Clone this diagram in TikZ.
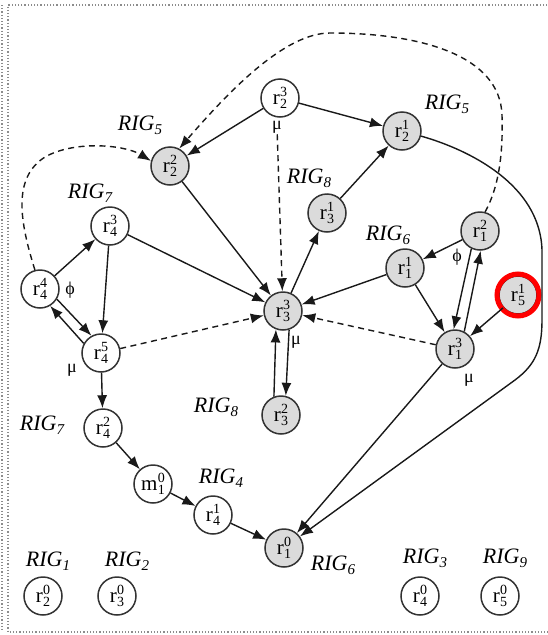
\documentclass[tikz,border=0pt]{standalone}
\usepackage{fontspec}
\setmainfont{Liberation Serif}
\usetikzlibrary{arrows.meta}

% state label: base letter with stacked superscript (#2) and subscript (#3)
\newcommand{\stlab}[3]{#1\kern0.2pt\rlap{\raisebox{8.5pt}{\fontsize{14}{14}\selectfont #2}}\raisebox{-4pt}{\fontsize{14}{14}\selectfont #3}}
% group label RIG with italic subscript
\newcommand{\riglab}[1]{RIG\raisebox{-4pt}{\fontsize{15}{15}\selectfont #1}}

\begin{document}
\begin{tikzpicture}[x=1pt,y=-1pt,
  st/.style={circle,draw=black!80,line width=1.5pt,minimum size=38pt,inner sep=0pt,
             fill=white,font=\fontsize{21}{21}\selectfont},
  sg/.style={st,fill=black!14},
  ar/.style={-{Latex[length=13pt,width=10pt]},line width=1.4pt,black!90},
  da/.style={ar,dash pattern=on 6pt off 4.5pt},
  lab/.style={font=\fontsize{22}{22}\selectfont\itshape,inner sep=0pt},
  gr/.style={font=\fontsize{18}{18}\selectfont,inner sep=1pt},
  frame/.style={draw=black!45,dotted,line width=1.2pt}]
\useasboundingbox (0,0) rectangle (548,635);

% frame
\draw[frame] (560,5) -- (8,5) -- (8,632) -- (560,632);
\draw[frame] (2,5) -- (2,632);

% states
\node[st] (r23) at (280,98)  {\stlab{r}{3}{2}};
\node[sg] (r22) at (170,166) {\stlab{r}{2}{2}};
\node[sg] (r21) at (402,131) {\stlab{r}{1}{2}};
\node[sg] (r31) at (327,213) {\stlab{r}{1}{3}};
\node[st] (r43) at (110,226) {\stlab{r}{3}{4}};
\node[st] (r44) at (40,289)  {\stlab{r}{4}{4}};
\node[st] (r45) at (101,353) {\stlab{r}{5}{4}};
\node[sg] (r33) at (283,311) {\stlab{r}{3}{3}};
\node[sg] (r32) at (281,415) {\stlab{r}{2}{3}};
\node[sg] (r11) at (405,268) {\stlab{r}{1}{1}};
\node[sg] (r12) at (480,231) {\stlab{r}{2}{1}};
\node[sg] (r51) at (518,295) {\stlab{r}{1}{5}};
\node[sg] (r13) at (455,349) {\stlab{r}{3}{1}};
\node[st] (r42) at (103,428) {\stlab{r}{2}{4}};
\node[st] (m10) at (153,484) {\stlab{m}{0}{1}};
\node[st] (r41) at (213,515) {\stlab{r}{1}{4}};
\node[sg] (r10) at (284,548) {\stlab{r}{0}{1}};
\node[st] (r20) at (43,596)  {\stlab{r}{0}{2}};
\node[st] (r30) at (117,596) {\stlab{r}{0}{3}};
\node[st] (r40) at (420,596) {\stlab{r}{0}{4}};
\node[st] (r50) at (500,596) {\stlab{r}{0}{5}};

% highlight ring
\draw[red,line width=5pt] (r51.center) circle[radius=21pt];

% group labels
\node[lab] (g1)  at (140,125) {\riglab{5}};
\node[lab] (g2)  at (447,104) {\riglab{5}};
\node[lab] (g3)  at (90,193)  {\riglab{7}};
\node[lab] (g4)  at (309,178) {\riglab{8}};
\node[lab] (g5)  at (388,235) {\riglab{6}};
\node[lab] (g6)  at (216,407) {\riglab{8}};
\node[lab] (g7)  at (42,425)  {\riglab{7}};
\node[lab] (g8)  at (221,478) {\riglab{4}};
\node[lab] (g9)  at (333,565) {\riglab{6}};
\node[lab] (g10) at (48,561)  {\riglab{1}};
\node[lab] (g11) at (127,561) {\riglab{2}};
\node[lab] (g12) at (425,558) {\riglab{3}};
\node[lab] (g13) at (505,558) {\riglab{9}};

% operator marks
\node[gr] (mu23) at (277,127) {μ};
\node[gr] (ph44) at (70,290)  {ϕ};
\node[gr] (mu45) at (72,370)  {μ};
\node[gr] (mu33) at (296,342) {μ};
\node[gr] (ph12) at (457,257) {ϕ};
\node[gr] (mu13) at (469,380) {μ};

% solid transitions
\draw[ar] (r23) -- (r22);
\draw[ar] (r23) -- (r21);
\draw[ar] (r22) -- (r33);
\draw[ar] (r33) -- (r31);
\draw[ar] (r31) -- (r21);
\draw[ar] (r43) -- (r33);
\draw[ar] (r44) -- (r43);
\draw[ar] (r43) -- (r45);
\draw[ar] (r44.-31) -- (r45.119);
\draw[ar] (r45.151) -- (r44.-59);
\draw[ar] (r45) -- (r42);
\draw[ar] (r42) -- (m10);
\draw[ar] (m10) -- (r41);
\draw[ar] (r41) -- (r10);
\draw[ar] (r11) -- (r33);
\draw[ar] (r12) -- (r11);
\draw[ar] (r11) -- (r13);
\draw[ar] (r12.-116) -- (r13.94);
\draw[ar] (r13.62) -- (r12.-88);
\draw[ar] (r51) -- (r13);
\draw[ar] (r13) -- (r10);
\draw[ar] (r32.111) -- (r33.-111);
\draw[ar] (r33.-72) -- (r32.76);
\draw[ar] (r21.-15) .. controls (470,150) and (540,185) .. (542,250)
  -- (542,320) .. controls (542,350) and (535,365) .. (515,380) -- (r10);

% dashed transitions
\draw[da] (mu23) -- (r33);
\draw[da] (r45) -- (r33);
\draw[da] (r13) -- (r33);
\draw[da] (r12.75) .. controls (500,185) and (503,150) .. (502,115)
  .. controls (500,55) and (420,33) .. (330,33)
  .. controls (285,33) and (230,90) .. (r22.62);
\draw[da] (r44.105) .. controls (20,222) and (12,178) .. (45,157)
  .. controls (75,140) and (125,145) .. (r22.165);
\end{tikzpicture}
\end{document}
